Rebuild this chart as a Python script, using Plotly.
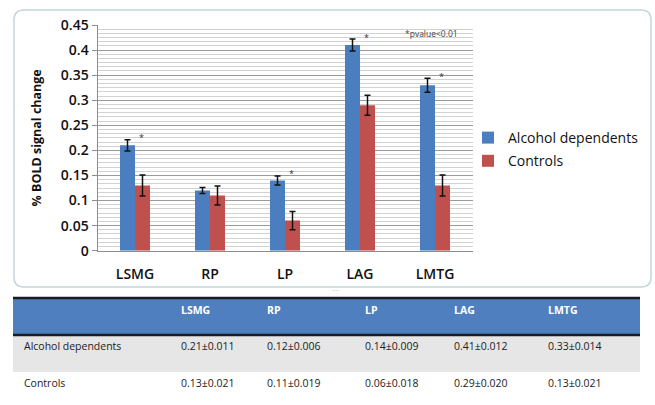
import plotly.graph_objects as go

# Regions of interest and group statistics (mean ± SD of % BOLD signal change)
regions = ["LSMG", "RP", "LP", "LAG", "LMTG"]
alcohol_mean = [0.21, 0.12, 0.14, 0.41, 0.33]
alcohol_sd = [0.011, 0.006, 0.009, 0.012, 0.014]
control_mean = [0.13, 0.11, 0.06, 0.29, 0.13]
control_sd = [0.021, 0.019, 0.018, 0.020, 0.021]
significant = [True, False, True, True, True]
group_names = ["Alcohol dependents", "Controls"]

y_tick_vals = [0, 0.05, 0.1, 0.15, 0.2, 0.25, 0.3, 0.35, 0.4, 0.45]
y_tick_text = ["0", "0.05", "0.1", "0.15", "0.2", "0.25", "0.3", "0.35", "0.4", "0.45"]

W, H = 655, 405
BLUE = "#4a7ebf"
RED = "#c0504d"
FONT = "Open Sans"


def px(x):
    return x / W


def py(y):
    return 1 - y / H


fig = go.Figure()

fig.add_trace(go.Bar(
    x=regions, y=alcohol_mean, name=group_names[0], legendgroup="a",
    marker=dict(color=BLUE, line=dict(width=0)),
    error_y=dict(type="data", array=alcohol_sd, color="#111", thickness=1.5, width=3),
))
fig.add_trace(go.Bar(
    x=regions, y=control_mean, name=group_names[1], legendgroup="c",
    marker=dict(color=RED, line=dict(width=0)),
    error_y=dict(type="data", array=control_sd, color="#111", thickness=1.5, width=3),
))


# Rounded frame around the chart
def rounded_rect(x0, y0, x1, y1, r):
    return (
        f"M {px(x0 + r)} {py(y0)} L {px(x1 - r)} {py(y0)} "
        f"Q {px(x1)} {py(y0)} {px(x1)} {py(y0 + r)} "
        f"L {px(x1)} {py(y1 - r)} Q {px(x1)} {py(y1)} {px(x1 - r)} {py(y1)} "
        f"L {px(x0 + r)} {py(y1)} Q {px(x0)} {py(y1)} {px(x0)} {py(y1 - r)} "
        f"L {px(x0)} {py(y0 + r)} Q {px(x0)} {py(y0)} {px(x0 + r)} {py(y0)} Z"
    )


shapes = [
    dict(type="path", xref="paper", yref="paper", path=rounded_rect(14, 10, 651, 287, 10),
         line=dict(color="#c3d6dc", width=1.5), fillcolor="rgba(0,0,0,0)", layer="below"),
]

# Table below the chart
tbl_x0, tbl_x1 = 13, 640
shapes += [
    dict(type="rect", xref="paper", yref="paper", x0=px(tbl_x0), x1=px(tbl_x1),
         y0=py(335), y1=py(298), fillcolor="#4f7fbf", line=dict(width=0)),
    dict(type="rect", xref="paper", yref="paper", x0=px(tbl_x0), x1=px(tbl_x1),
         y0=py(372), y1=py(336), fillcolor="#e6e6e6", line=dict(width=0)),
    dict(type="line", xref="paper", yref="paper", x0=px(tbl_x0), x1=px(tbl_x1),
         y0=py(298), y1=py(298), line=dict(color="#1c1c1c", width=2.5)),
    dict(type="line", xref="paper", yref="paper", x0=px(tbl_x0), x1=px(tbl_x1),
         y0=py(335), y1=py(335), line=dict(color="#1c1c1c", width=2.5)),
]

annotations = []

# Significance markers above the alcohol-dependent bars
for reg, m, s, sig in zip(regions, alcohol_mean, alcohol_sd, significant):
    if sig:
        annotations.append(dict(
            x=reg, y=m + s, xref="x", yref="y", text="*", showarrow=False,
            xshift=6, yshift=2, yanchor="middle",
            font=dict(family=FONT, size=9, color="#333"),
        ))

annotations.append(dict(
    x=px(403), y=py(34), xref="paper", yref="paper", text="*pvalue<0.01",
    showarrow=False, xanchor="left", yanchor="middle",
    font=dict(family=FONT, size=8.5, color="#444"),
))

annotations.append(dict(
    x=px(336), y=py(290), xref="paper", yref="paper", text="····",
    showarrow=False, xanchor="center", yanchor="middle",
    font=dict(family=FONT, size=7, color="#aaaaaa"),
))

col_x = [179, 265, 363, 452, 546]
for reg, cx in zip(regions, col_x):
    annotations.append(dict(
        x=px(cx), y=py(310), xref="paper", yref="paper", text=f"<b>{reg}</b>",
        showarrow=False, xanchor="left", yanchor="middle",
        font=dict(family=FONT, size=10.5, color="white"),
    ))

rows = [
    (group_names[0], alcohol_mean, alcohol_sd, 346),
    (group_names[1], control_mean, control_sd, 383),
]
for label, means, sds, ry in rows:
    annotations.append(dict(
        x=px(22), y=py(ry), xref="paper", yref="paper", text=label,
        showarrow=False, xanchor="left", yanchor="middle",
        font=dict(family=FONT, size=10.5, color="#222"),
    ))
    for m, s, cx in zip(means, sds, col_x):
        annotations.append(dict(
            x=px(cx), y=py(ry), xref="paper", yref="paper", text=f"{m:.2f}±{s:.3f}",
            showarrow=False, xanchor="left", yanchor="middle",
            font=dict(family=FONT, size=10.5, color="#222"),
        ))

fig.update_layout(
    width=W, height=H,
    margin=dict(l=0, r=0, t=0, b=0),
    paper_bgcolor="white", plot_bgcolor="white",
    barmode="group", bargap=0.6, bargroupgap=0,
    font=dict(family=FONT, color="#111"),
    showlegend=True,
    legend=dict(
        x=px(468), y=py(122), xanchor="left", yanchor="top",
        font=dict(family=FONT, size=14, color="#111"),
        bgcolor="rgba(0,0,0,0)", traceorder="grouped", tracegroupgap=2,
        itemwidth=30,
    ),
    xaxis=dict(
        domain=[px(97.5), px(472.5)], automargin=False,
        showline=True, linecolor="#8c8c8c", linewidth=1,
        ticks="", showgrid=False,
        tickfont=dict(family=FONT, size=14, color="#111", weight=600),
        ticklabelstandoff=10,
    ),
    yaxis=dict(
        domain=[py(250.7), py(25)], automargin=False,
        range=[0, 0.45], tickvals=y_tick_vals, ticktext=y_tick_text,
        showline=True, linecolor="#8c8c8c", linewidth=1,
        ticks="outside", ticklen=5, tickcolor="#8c8c8c",
        showgrid=True, gridcolor="#9a9a9a", gridwidth=1, zeroline=False,
        minor=dict(dtick=0.05 / 6, showgrid=True, gridcolor="#d2d2d2", gridwidth=1, ticks=""),
        tickfont=dict(family=FONT, size=14, color="#111", weight=600),
        title=dict(text="% BOLD signal change", standoff=16,
                   font=dict(family=FONT, size=12.5, color="#111", weight="bold")),
    ),
    shapes=shapes,
    annotations=annotations,
)

fig.write_html("out.html")
